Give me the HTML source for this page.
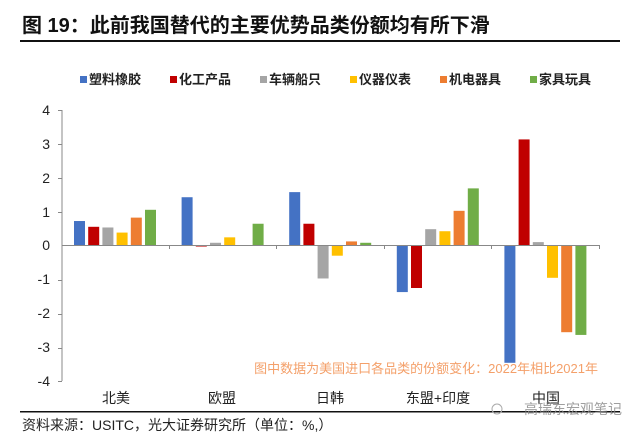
<!DOCTYPE html><html><head><meta charset="utf-8"><style>
body{margin:0;width:640px;height:439px;background:#fff;overflow:hidden}
</style></head><body>
<svg width="640" height="439" xmlns="http://www.w3.org/2000/svg" font-family="Liberation Sans, Noto Sans CJK SC, sans-serif">
<text x="22" y="32" font-size="20" font-weight="bold" fill="#111">图 19：此前我国替代的主要优势品类份额均有所下滑</text>
<rect x="20" y="40" width="600" height="2" fill="#111"/>
<g font-size="13" font-weight="bold" fill="#222">
<rect x="80" y="76" width="7" height="7" fill="#4472C4"/><text x="89" y="84">塑料橡胶</text>
<rect x="170" y="76" width="7" height="7" fill="#C00000"/><text x="179" y="84">化工产品</text>
<rect x="260" y="76" width="7" height="7" fill="#A5A5A5"/><text x="269" y="84">车辆船只</text>
<rect x="350" y="76" width="7" height="7" fill="#FFC000"/><text x="359" y="84">仪器仪表</text>
<rect x="440" y="76" width="7" height="7" fill="#ED7D31"/><text x="449" y="84">机电器具</text>
<rect x="530" y="76" width="7" height="7" fill="#70AD47"/><text x="539" y="84">家具玩具</text>
</g>
<g font-size="14" fill="#222" text-anchor="end">
<text x="50" y="115">4</text><text x="50" y="149">3</text><text x="50" y="183">2</text><text x="50" y="217">1</text><text x="50" y="250">0</text><text x="50" y="284">-1</text><text x="50" y="318">-2</text><text x="50" y="352">-3</text><text x="50" y="386">-4</text>
</g>
<g stroke="#888" stroke-width="1">
<line x1="62" y1="110" x2="62" y2="381"/>
<line x1="58" y1="110.5" x2="62" y2="110.5"/><line x1="58" y1="144.5" x2="62" y2="144.5"/><line x1="58" y1="178.5" x2="62" y2="178.5"/><line x1="58" y1="212.5" x2="62" y2="212.5"/><line x1="58" y1="280.5" x2="62" y2="280.5"/><line x1="58" y1="314.5" x2="62" y2="314.5"/><line x1="58" y1="348.5" x2="62" y2="348.5"/><line x1="58" y1="381.5" x2="62" y2="381.5"/>
</g>
<g id="bars"></g>
<line x1="62" y1="245.5" x2="600" y2="245.5" stroke="#888"/>
<g stroke="#888"><line x1="169.5" y1="245" x2="169.5" y2="249"/><line x1="276.5" y1="245" x2="276.5" y2="249"/><line x1="384.5" y1="245" x2="384.5" y2="249"/><line x1="491.5" y1="245" x2="491.5" y2="249"/><line x1="599.5" y1="245" x2="599.5" y2="249"/></g>
<text x="598" y="373" font-size="13" fill="#F4A06A" text-anchor="end">图中数据为美国进口各品类的份额变化：2022年相比2021年</text>
<g font-size="14" fill="#222" text-anchor="middle">
<text x="116" y="403">北美</text><text x="222" y="403">欧盟</text><text x="330" y="403">日韩</text><text x="438" y="403">东盟+印度</text><text x="546" y="403">中国</text>
</g>
<rect x="20" y="411" width="600" height="1.5" fill="#111"/>
<text x="22" y="430" font-size="14" fill="#222">资料来源：USITC，光大证券研究所（单位：%,）</text>
<text x="622" y="414" font-size="14" fill="#888" text-anchor="end" opacity="0.8">高瑞东宏观笔记</text>
<circle cx="497" cy="409" r="5" fill="none" stroke="#aaa"/>
</svg>
<script>
var v=[[.72,.55,.53,.38,.82,1.05],[1.42,-.03,.08,.24,0,.64],[1.57,.64,-.97,-.3,.12,.08],[-1.37,-1.25,.48,.42,1.02,1.68],[-3.45,3.12,.1,-.95,-2.55,-2.63]];
var c=["#4472C4","#C00000","#A5A5A5","#FFC000","#ED7D31","#70AD47"];
var g=document.getElementById("bars"),s="";
for(var i=0;i<5;i++)for(var j=0;j<6;j++){var val=v[i][j];if(!val)continue;var x=62+i*107.6+12+j*14.2,h=Math.abs(val)*34,y=val>0?245.5-h:245.5;
s+='<rect x="'+x+'" y="'+y+'" width="11" height="'+h+'" fill="'+c[j]+'"/>';}
g.innerHTML=s;
</script>
</body></html>
